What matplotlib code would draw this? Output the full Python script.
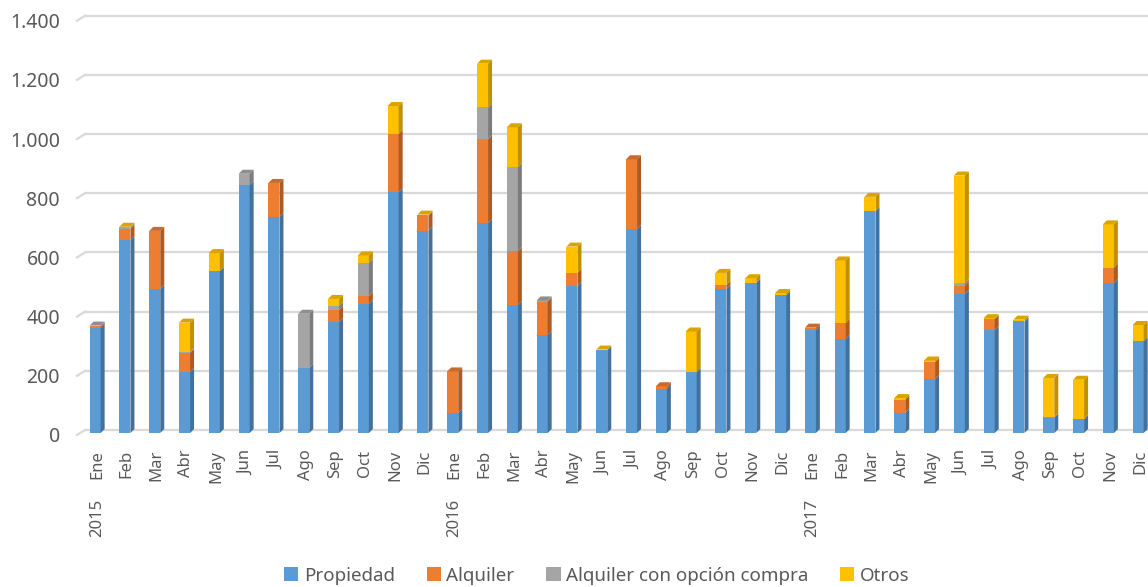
import matplotlib
matplotlib.use('Agg')
import matplotlib.pyplot as plt
from matplotlib.patches import Polygon, Patch
import matplotlib.transforms as mtransforms
import numpy as np

months = ['Ene', 'Feb', 'Mar', 'Abr', 'May', 'Jun', 'Jul', 'Ago', 'Sep', 'Oct', 'Nov', 'Dic'] * 3
years = ['2015', '2016', '2017']
series_names = ['Propiedad', 'Alquiler', 'Alquiler con opción compra', 'Otros']

propiedad = [355, 652, 487, 206, 547, 838, 730, 220, 375, 436, 814, 683,
             68, 710, 433, 331, 497, 280, 689, 150, 206, 487, 507, 465,
             348, 318, 750, 68, 182, 470, 348, 377, 51, 47, 507, 311]
alquiler = [5, 38, 196, 65, 0, 0, 115, 0, 40, 27, 197, 52,
            140, 283, 182, 113, 44, 0, 236, 8, 0, 13, 0, 0,
            8, 54, 0, 45, 58, 28, 37, 0, 4, 0, 52, 0]
opcion = [3, 5, 0, 3, 0, 38, 0, 183, 15, 112, 0, 0,
          0, 107, 284, 4, 0, 0, 0, 0, 0, 0, 0, 0,
          0, 0, 0, 0, 0, 8, 0, 0, 0, 0, 0, 0]
otros = [0, 2, 0, 99, 61, 0, 0, 0, 23, 25, 94, 3,
         0, 148, 134, 0, 89, 2, 0, 0, 137, 41, 16, 8,
         0, 211, 48, 5, 5, 364, 3, 6, 131, 133, 146, 54]

colors = ['#5B9BD5', '#ED7D31', '#A5A5A5', '#FFC000']
side_colors = ['#41719C', '#AE5A21', '#7C7C7C', '#BF9000']
top_colors = ['#4F86BA', '#C9692A', '#8E8E8E', '#D9A300']

plt.rcParams['font.family'] = ['Noto Sans', 'DejaVu Sans']
text_color = '#595959'

W, H, DPI = 1148, 587, 100
fig = plt.figure(figsize=(W / DPI, H / DPI), dpi=DPI)
left_px, right_px, bottom_px = 85, 1148, 433
scale = 414.3 / 1400.0   # pixels per unit
ymin, ymax = 0, 1400
top_px = bottom_px - scale * (ymax - ymin)
ax = fig.add_axes([left_px / W, 1 - bottom_px / H, (right_px - left_px) / W, (bottom_px - top_px) / H])

n = len(months)
x = np.arange(n)
xmin, xmax = -0.40, 35.27
ax.set_xlim(xmin, xmax)
ax.set_ylim(ymin, ymax)

px_x = (right_px - left_px) / (xmax - xmin)
px_y = scale
dx = 4 / px_x
dy = 4 / px_y
back = 3 / px_y   # back wall offset of gridlines
bw = 0.37
xc = x - 0.06

# gridlines (back wall with small perspective slant on the left)
yticks = list(range(0, 1401, 200))
for v in yticks:
    ax.plot([xmin, xmax], [v + back, v + back], color='#D9D9D9', lw=1.6, zorder=0,
            clip_on=False, solid_capstyle='butt')
    ax.plot([xmin - 8 / px_x, xmin], [v + back - 5 / px_y, v + back], color='#D9D9D9',
            lw=1.6, zorder=0, clip_on=False)

data = [propiedad, alquiler, opcion, otros]
bottom = np.zeros(n)
for k, vals in enumerate(data):
    vals = np.array(vals, dtype=float)
    ax.bar(xc, vals, bw, bottom=bottom, color=colors[k], edgecolor='none', zorder=3,
           label=series_names[k])
    for i in range(n):
        if vals[i] <= 0:
            continue
        xr = xc[i] + bw / 2
        y0, y1 = bottom[i], bottom[i] + vals[i]
        ax.add_patch(Polygon([(xr, y0), (xr + dx, y0 + dy), (xr + dx, y1 + dy), (xr, y1)],
                             closed=True, facecolor=side_colors[k], edgecolor='none',
                             zorder=3, clip_on=False))
    bottom = bottom + vals

# top faces
totals = bottom
for i in range(n):
    k_top = max(k for k in range(4) if data[k][i] > 0)
    xl = xc[i] - bw / 2
    xr = xc[i] + bw / 2
    t = totals[i]
    ax.add_patch(Polygon([(xl, t), (xl + dx, t + dy), (xr + dx, t + dy), (xr, t)],
                         closed=True, facecolor=top_colors[k_top], edgecolor='none',
                         zorder=4, clip_on=False))

for s in ax.spines.values():
    s.set_visible(False)

ax.set_yticks(yticks)
ax.set_yticklabels([f'{v:,}'.replace(',', '.') for v in yticks])
ax.tick_params(axis='y', length=0, pad=18, labelsize=14, labelcolor=text_color)
off = mtransforms.ScaledTranslation(0, -2 / DPI, fig.dpi_scale_trans)
for lab in ax.get_yticklabels():
    lab.set_transform(lab.get_transform() + off)

ax.set_xticks(x)
ax.set_xticklabels(months, rotation=90, va='top', ha='center')
ax.tick_params(axis='x', length=0, pad=12, labelsize=12, labelcolor=text_color)

for j, yr in enumerate(years):
    ax.annotate(yr, xy=(x[12 * j], 0), xycoords=('data', 'axes fraction'),
                xytext=(0, -66 * 72 / DPI), textcoords='offset points',
                rotation=90, ha='center', va='top', fontsize=12, color=text_color,
                annotation_clip=False)

handles = [Patch(facecolor=c, edgecolor='none') for c in colors]
fig.legend(handles, series_names, loc='lower center', bbox_to_anchor=(0.52, -0.025),
           ncol=4, frameon=False, fontsize=13.5, handlelength=0.75, handleheight=0.75,
           handletextpad=0.3, columnspacing=1.7, labelcolor=text_color)

fig.savefig('out.png', dpi=DPI)
